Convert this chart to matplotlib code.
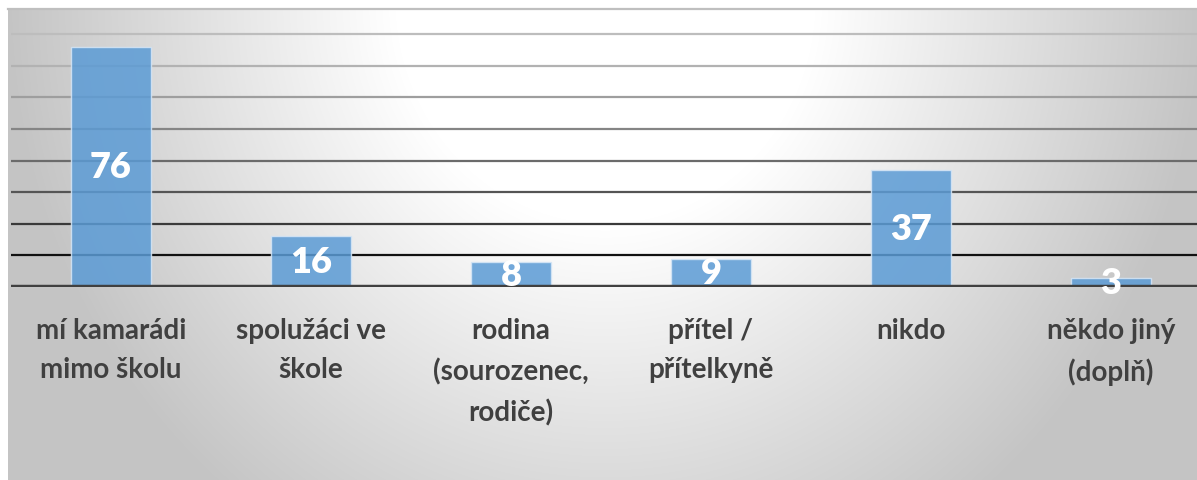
import numpy as np
import matplotlib
matplotlib.use("Agg")
import matplotlib.pyplot as plt

categories = ["mí kamarádi\nmimo školu", "spolužáci ve\nškole", "rodina\n(sourozenec,\nrodiče)",
              "přítel /\npřítelkyně", "nikdo", "někdo jiný\n(doplň)"]
values = [76, 16, 8, 9, 37, 3]
grid_levels = [10, 20, 30, 40, 50, 60, 70, 80]

plt.rcParams['font.family'] = ['Lato', 'DejaVu Sans']

W, H = 1197, 481
fig = plt.figure(figsize=(W / 100, H / 100), dpi=100)
fig.patch.set_facecolor('white')

# background gradient (light at top centre, grey towards edges)
bg = fig.add_axes([8 / W, 0, 1 - 8 / W, (H - 9) / H])
xs = np.arange(8, W)
ys = np.arange(9, H)
X, Y = np.meshgrid(xs, ys)
d = np.sqrt(((X - 605) / 600.0) ** 2 + ((Y - 0) / 640.0) ** 2)
v = 255 - 59 * np.clip((d - 0.35) / 0.65, 0, 1.2)
v = np.clip(v, 196, 255) / 255.0
img = np.dstack([v, v, v])
bg.imshow(img, aspect='auto', interpolation='bilinear')
bg.set_axis_off()
fig.lines.append(plt.Line2D([8 / W, 1], [(H - 9.5) / H] * 2, transform=fig.transFigure,
                            color='#bfbfbf', lw=1.6))

ax = fig.add_axes([11 / W, (H - 288) / H, 1200 / W, 278 / H])
ax.set_facecolor('none')
x = np.arange(len(values))

grid_cols = ['#111111', '#3a3a3a', '#555555', '#6b6b6b', '#858585', '#9e9e9e', '#b2b2b2', '#bdbdbd']
for lvl, c in zip(grid_levels, grid_cols):
    ax.axhline(lvl, color=c, lw=1.6, zorder=1)

ax.bar(x, values, width=0.4, color='#5b9bd5', alpha=0.85, edgecolor='#d6e6f6',
       linewidth=1.0, zorder=2)
ax.axhline(0, color='#404040', lw=3.2, zorder=3)

for xi, val in zip(x, values):
    ax.text(xi, val / 2, str(val), ha='center', va='center', color='white',
            fontsize=26, fontweight='heavy', zorder=4)

ax.set_xlim(-0.5, 5.5)
ax.set_ylim(0, 88)
ax.set_yticks([])
ax.set_xticks(x)
ax.set_xticklabels(categories, fontsize=20, fontweight='bold', color='#404040',
                   linespacing=1.64)
ax.tick_params(axis='x', length=0, pad=21.5)
for s in ax.spines.values():
    s.set_visible(False)

fig.savefig('out.png', dpi=100)
